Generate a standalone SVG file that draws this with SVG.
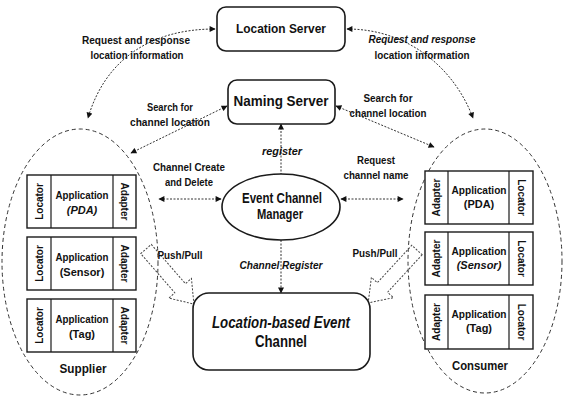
<svg xmlns="http://www.w3.org/2000/svg" width="565" height="397" viewBox="0 0 565 397">
  <defs>
    <marker id="head" viewBox="0 0 10 10" refX="9" refY="5" markerWidth="7" markerHeight="6" markerUnits="userSpaceOnUse" orient="auto-start-reverse">
      <path d="M0,0 L10,5 L0,10 z" fill="#111"/>
    </marker>
    <style>
      .t { font-family: "Liberation Sans", Arial, sans-serif; font-weight: bold; fill: #111; text-anchor: middle; }
      .it { font-style: italic; }
      .v { font-size: 10px; }
      .box { fill: #fff; stroke: #1a1a1a; stroke-width: 1.6; }
      .comp { fill: #fff; stroke: #1a1a1a; stroke-width: 1.4; }
      .div { stroke: #1a1a1a; stroke-width: 1.2; }
      .group { fill: none; stroke: #333; stroke-width: 1; stroke-dasharray: 4 3; }
      .link { fill: none; stroke: #333; stroke-width: 1; stroke-dasharray: 2 1.5; }
      .block { fill: none; stroke: #444; stroke-width: 1; stroke-dasharray: 2 1.5; }
    </style>
  </defs>

  <rect width="565" height="397" fill="#fff"/>

  <!-- supplier / consumer groups -->
  <g id="supplier">
    <ellipse class="group" cx="80" cy="262" rx="78" ry="133"/>
    <text class="t" x="83" y="373" font-size="13" textLength="47" lengthAdjust="spacingAndGlyphs">Supplier</text>
  </g>
  <g id="consumer">
    <ellipse class="group" cx="485" cy="261" rx="77" ry="132"/>
    <text class="t" x="480" y="370" font-size="13" textLength="56" lengthAdjust="spacingAndGlyphs">Consumer</text>
  </g>

  <!-- connectors -->
  <g id="connectors">
    <path class="link" d="M215,29 C150,29 105,60 88,118" marker-start="url(#head)" marker-end="url(#head)"/>
    <path class="link" d="M347,29 C410,29 455,70 473,118" marker-start="url(#head)" marker-end="url(#head)"/>
    <path class="link" d="M227,106 L131,153" marker-start="url(#head)" marker-end="url(#head)"/>
    <path class="link" d="M336,106 L434,147" marker-start="url(#head)" marker-end="url(#head)"/>
    <path class="link" d="M281,124 L281,174" marker-start="url(#head)"/>
    <path class="link" d="M221,199 L159,199" marker-start="url(#head)" marker-end="url(#head)"/>
    <path class="link" d="M341,199 L403,199" marker-start="url(#head)" marker-end="url(#head)"/>
    <path class="link" d="M281,240 L281,293" marker-end="url(#head)"/>
    <!-- push/pull block arrows -->
    <polygon class="block" points="0,-7 52,-7 52,-15 73,0 52,15 52,7 0,7" transform="translate(146,249) rotate(49)"/>
    <polygon class="block" points="0,-7 51,-7 51,-15 72,0 51,15 51,7 0,7" transform="translate(417,250) rotate(132.7)"/>
  </g>

  <!-- connector labels -->
  <g id="labels">
    <text class="t" x="136" y="44" font-size="11" textLength="108" lengthAdjust="spacingAndGlyphs">Request and response</text>
    <text class="t" x="137" y="59" font-size="11" textLength="93" lengthAdjust="spacingAndGlyphs">location information</text>
    <text class="t it" x="422" y="43" font-size="11" textLength="107" lengthAdjust="spacingAndGlyphs">Request and response</text>
    <text class="t" x="422" y="59" font-size="11" textLength="95" lengthAdjust="spacingAndGlyphs">location information</text>
    <text class="t" x="170" y="111" font-size="11" textLength="46" lengthAdjust="spacingAndGlyphs">Search for</text>
    <text class="t" x="170" y="126" font-size="11" textLength="80" lengthAdjust="spacingAndGlyphs">channel location</text>
    <text class="t" x="388" y="102" font-size="11" textLength="49" lengthAdjust="spacingAndGlyphs">Search for</text>
    <text class="t" x="388" y="117" font-size="11" textLength="77" lengthAdjust="spacingAndGlyphs">channel location</text>
    <text class="t it" x="282" y="155" font-size="11" textLength="40" lengthAdjust="spacingAndGlyphs">register</text>
    <text class="t" x="189" y="171" font-size="11" textLength="72" lengthAdjust="spacingAndGlyphs">Channel Create</text>
    <text class="t" x="189" y="186" font-size="11" textLength="48" lengthAdjust="spacingAndGlyphs">and Delete</text>
    <text class="t" x="376" y="164" font-size="11" textLength="38" lengthAdjust="spacingAndGlyphs">Request</text>
    <text class="t" x="376" y="179" font-size="11" textLength="65" lengthAdjust="spacingAndGlyphs">channel name</text>
    <text class="t" x="180" y="259" font-size="11" textLength="45" lengthAdjust="spacingAndGlyphs">Push/Pull</text>
    <text class="t" x="375" y="257" font-size="11" textLength="45" lengthAdjust="spacingAndGlyphs">Push/Pull</text>
    <text class="t it" x="281" y="269" font-size="11" textLength="83" lengthAdjust="spacingAndGlyphs">Channel  Register</text>
  </g>

  <!-- servers and channel -->
  <g id="location-server">
    <rect class="box" x="217" y="7" width="128" height="44" rx="9"/>
    <text class="t" x="281" y="33" font-size="13" textLength="90" lengthAdjust="spacingAndGlyphs">Location Server</text>
  </g>
  <g id="naming-server">
    <rect class="box" x="228" y="80" width="107" height="44" rx="9"/>
    <text class="t" x="281" y="106" font-size="15" textLength="95" lengthAdjust="spacingAndGlyphs">Naming Server</text>
  </g>
  <g id="event-channel-manager">
    <ellipse class="box" cx="281" cy="207" rx="59" ry="33"/>
    <text class="t" x="282" y="203" font-size="14" textLength="80" lengthAdjust="spacingAndGlyphs">Event Channel</text>
    <text class="t" x="280" y="219" font-size="14" textLength="46" lengthAdjust="spacingAndGlyphs">Manager</text>
  </g>
  <g id="location-based-event-channel">
    <rect class="box" x="193" y="293" width="177" height="77" rx="16"/>
    <text class="t it" x="281" y="328" font-size="16" textLength="138" lengthAdjust="spacingAndGlyphs">Location-based Event</text>
    <text class="t" x="281" y="347" font-size="16" textLength="52" lengthAdjust="spacingAndGlyphs">Channel</text>
  </g>

  <!-- supplier components: Locator | Application | Adapter -->
  <g id="supplier-pda">
    <rect class="comp" x="27" y="175" width="109" height="53"/>
    <line class="div" x1="51" y1="175" x2="51" y2="228"/>
    <line class="div" x1="113" y1="175" x2="113" y2="228"/>
    <text class="t v" transform="translate(42.5,201.5) rotate(-90)">Locator</text>
    <text class="t v" transform="translate(121,201.5) rotate(90)">Adapter</text>
    <text class="t" x="82" y="199" font-size="11" textLength="53" lengthAdjust="spacingAndGlyphs">Application</text>
    <text class="t it" x="82" y="214" font-size="11">(PDA)</text>
  </g>
  <g id="supplier-sensor">
    <rect class="comp" x="27" y="237" width="109" height="53"/>
    <line class="div" x1="51" y1="237" x2="51" y2="290"/>
    <line class="div" x1="113" y1="237" x2="113" y2="290"/>
    <text class="t v" transform="translate(42.5,263.5) rotate(-90)">Locator</text>
    <text class="t v" transform="translate(121,263.5) rotate(90)">Adapter</text>
    <text class="t" x="82" y="261" font-size="11" textLength="53" lengthAdjust="spacingAndGlyphs">Application</text>
    <text class="t" x="82" y="276" font-size="11">(Sensor)</text>
  </g>
  <g id="supplier-tag">
    <rect class="comp" x="27" y="299" width="109" height="53"/>
    <line class="div" x1="51" y1="299" x2="51" y2="352"/>
    <line class="div" x1="113" y1="299" x2="113" y2="352"/>
    <text class="t v" transform="translate(42.5,325.5) rotate(-90)">Locator</text>
    <text class="t v" transform="translate(121,325.5) rotate(90)">Adapter</text>
    <text class="t" x="82" y="323" font-size="11" textLength="53" lengthAdjust="spacingAndGlyphs">Application</text>
    <text class="t" x="82" y="338" font-size="11">(Tag)</text>
  </g>

  <!-- consumer components: Adapter | Application | Locator -->
  <g id="consumer-pda">
    <rect class="comp" x="425" y="171" width="108" height="53"/>
    <line class="div" x1="448" y1="171" x2="448" y2="224"/>
    <line class="div" x1="509" y1="171" x2="509" y2="224"/>
    <text class="t v" transform="translate(440,197.5) rotate(-90)">Adapter</text>
    <text class="t v" transform="translate(517.5,197.5) rotate(90)">Locator</text>
    <text class="t" x="479" y="194" font-size="11" textLength="55" lengthAdjust="spacingAndGlyphs">Application</text>
    <text class="t" x="479" y="208" font-size="11">(PDA)</text>
  </g>
  <g id="consumer-sensor">
    <rect class="comp" x="425" y="232" width="108" height="53"/>
    <line class="div" x1="448" y1="232" x2="448" y2="285"/>
    <line class="div" x1="509" y1="232" x2="509" y2="285"/>
    <text class="t v" transform="translate(440,258.5) rotate(-90)">Adapter</text>
    <text class="t v" transform="translate(517.5,258.5) rotate(90)">Locator</text>
    <text class="t" x="479" y="255" font-size="11" textLength="55" lengthAdjust="spacingAndGlyphs">Application</text>
    <text class="t it" x="479" y="269" font-size="11">(Sensor)</text>
  </g>
  <g id="consumer-tag">
    <rect class="comp" x="425" y="295" width="108" height="54"/>
    <line class="div" x1="448" y1="295" x2="448" y2="349"/>
    <line class="div" x1="509" y1="295" x2="509" y2="349"/>
    <text class="t v" transform="translate(440,322) rotate(-90)">Adapter</text>
    <text class="t v" transform="translate(517.5,322) rotate(90)">Locator</text>
    <text class="t" x="479" y="318" font-size="11" textLength="55" lengthAdjust="spacingAndGlyphs">Application</text>
    <text class="t" x="479" y="332" font-size="11">(Tag)</text>
  </g>
</svg>
